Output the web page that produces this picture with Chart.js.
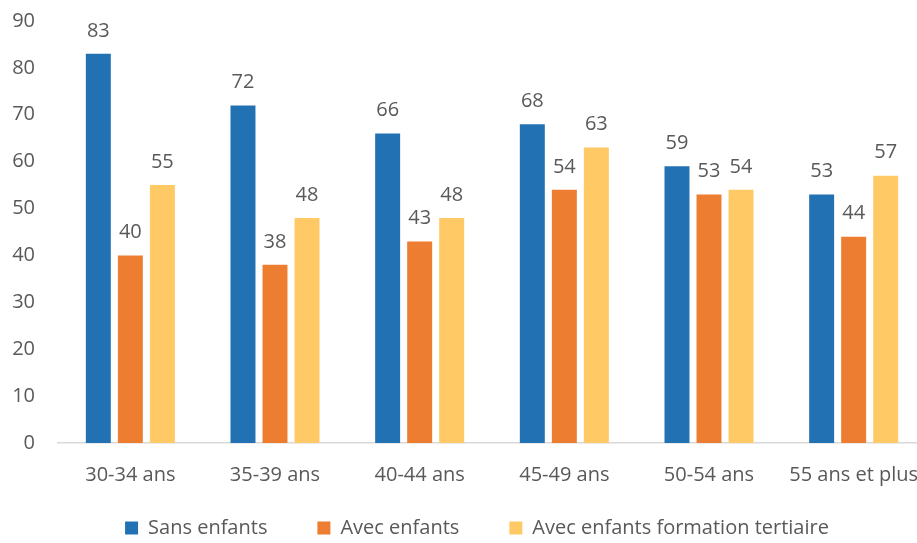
<!DOCTYPE html>
<html><head><meta charset="utf-8">
<script src="https://cdn.jsdelivr.net/npm/chart.js@4/dist/chart.umd.min.js"></script>
<style>html,body{margin:0;padding:0;background:#fff;overflow:hidden}canvas{display:block}</style>
</head><body><canvas id="c" width="926" height="543"></canvas>
<script>
const categories = ["30-34 ans","35-39 ans","40-44 ans","45-49 ans","50-54 ans","55 ans et plus"];
const seriesNames = ["Sans enfants","Avec enfants","Avec enfants formation tertiaire"];
const sansEnfants = [83,72,66,68,59,53];
const avecEnfants = [40,38,43,54,53,44];
const avecEnfantsTertiaire = [55,48,48,63,54,57];
const colors = ["#2271B3","#ED7D31","#FFC965"];
const FONT = "'Open Sans', sans-serif";
const FS = 20;
const LEG_PAD = 50;
const txt = "#595959";

const labelPlugin = {
  id:'barLabels',
  afterDatasetsDraw(chart){
    const ctx = chart.ctx;
    ctx.save();
    ctx.font = FS + "px " + FONT;
    ctx.fillStyle = txt;
    ctx.textAlign = 'center';
    ctx.textBaseline = 'middle';
    chart.data.datasets.forEach((ds,i)=>{
      chart.getDatasetMeta(i).data.forEach((bar,j)=>{
        ctx.fillText(String(ds.data[j]), bar.x, bar.y - 23);
      });
    });
    ctx.restore();
  }
};
const LEGEND_H = 50, LEGEND_CY = 528, LEGEND_CX = 477;
const legendFit = {
  id:'legendFit',
  beforeInit(chart){
    const lg = chart.legend;
    if(!lg) return;
    const origFit = lg.fit, origDraw = lg.draw;
    lg.fit = function(){ origFit.call(this); this.height = LEGEND_H; };
    lg.draw = function(){
      const saved = {top:this.top,bottom:this.bottom,left:this.left,right:this.right};
      const dy = LEGEND_CY - (saved.top + LEG_PAD + FS/2);
      const dx = LEGEND_CX - (saved.left + saved.right)/2;
      this.top = saved.top + dy; this.bottom = chart.height;
      this.left = saved.left + dx; this.right = saved.right + dx;
      origDraw.call(this);
      Object.assign(this, saved);
    };
  }
};

new Chart(document.getElementById('c'),{
  type:'bar',
  data:{
    labels:categories,
    datasets:[
      {label:seriesNames[0],data:sansEnfants,backgroundColor:colors[0]},
      {label:seriesNames[1],data:avecEnfants,backgroundColor:colors[1]},
      {label:seriesNames[2],data:avecEnfantsTertiaire,backgroundColor:colors[2]}
    ]
  },
  options:{
    responsive:false,animation:false,
    datasets:{bar:{categoryPercentage:0.664,barPercentage:0.78}},
    layout:{padding:{top:21,left:0,right:0,bottom:0}},
    plugins:{
      legend:{position:'bottom',labels:{font:{family:FONT,size:FS},color:txt,boxWidth:13,boxHeight:13,padding:LEG_PAD}},
      tooltip:{enabled:false}
    },
    scales:{
      x:{grid:{display:false,drawTicks:false},border:{display:true,color:'#D9D9D9',width:1.5},
         afterFit(s){ s.height = 50; s.paddingLeft = 0; s.paddingRight = 0; },
         ticks:{font:{family:FONT,size:FS},color:txt,padding:20,maxRotation:0,autoSkip:false}},
      y:{min:0,max:90,grid:{display:false,drawTicks:false},border:{display:false},
         afterFit(s){ s.width = 58; s.paddingTop = 0; s.paddingBottom = 0; },
         ticks:{stepSize:10,font:{family:FONT,size:FS},color:txt,padding:23}}
    }
  },
  plugins:[labelPlugin,legendFit]
});
</script></body></html>
